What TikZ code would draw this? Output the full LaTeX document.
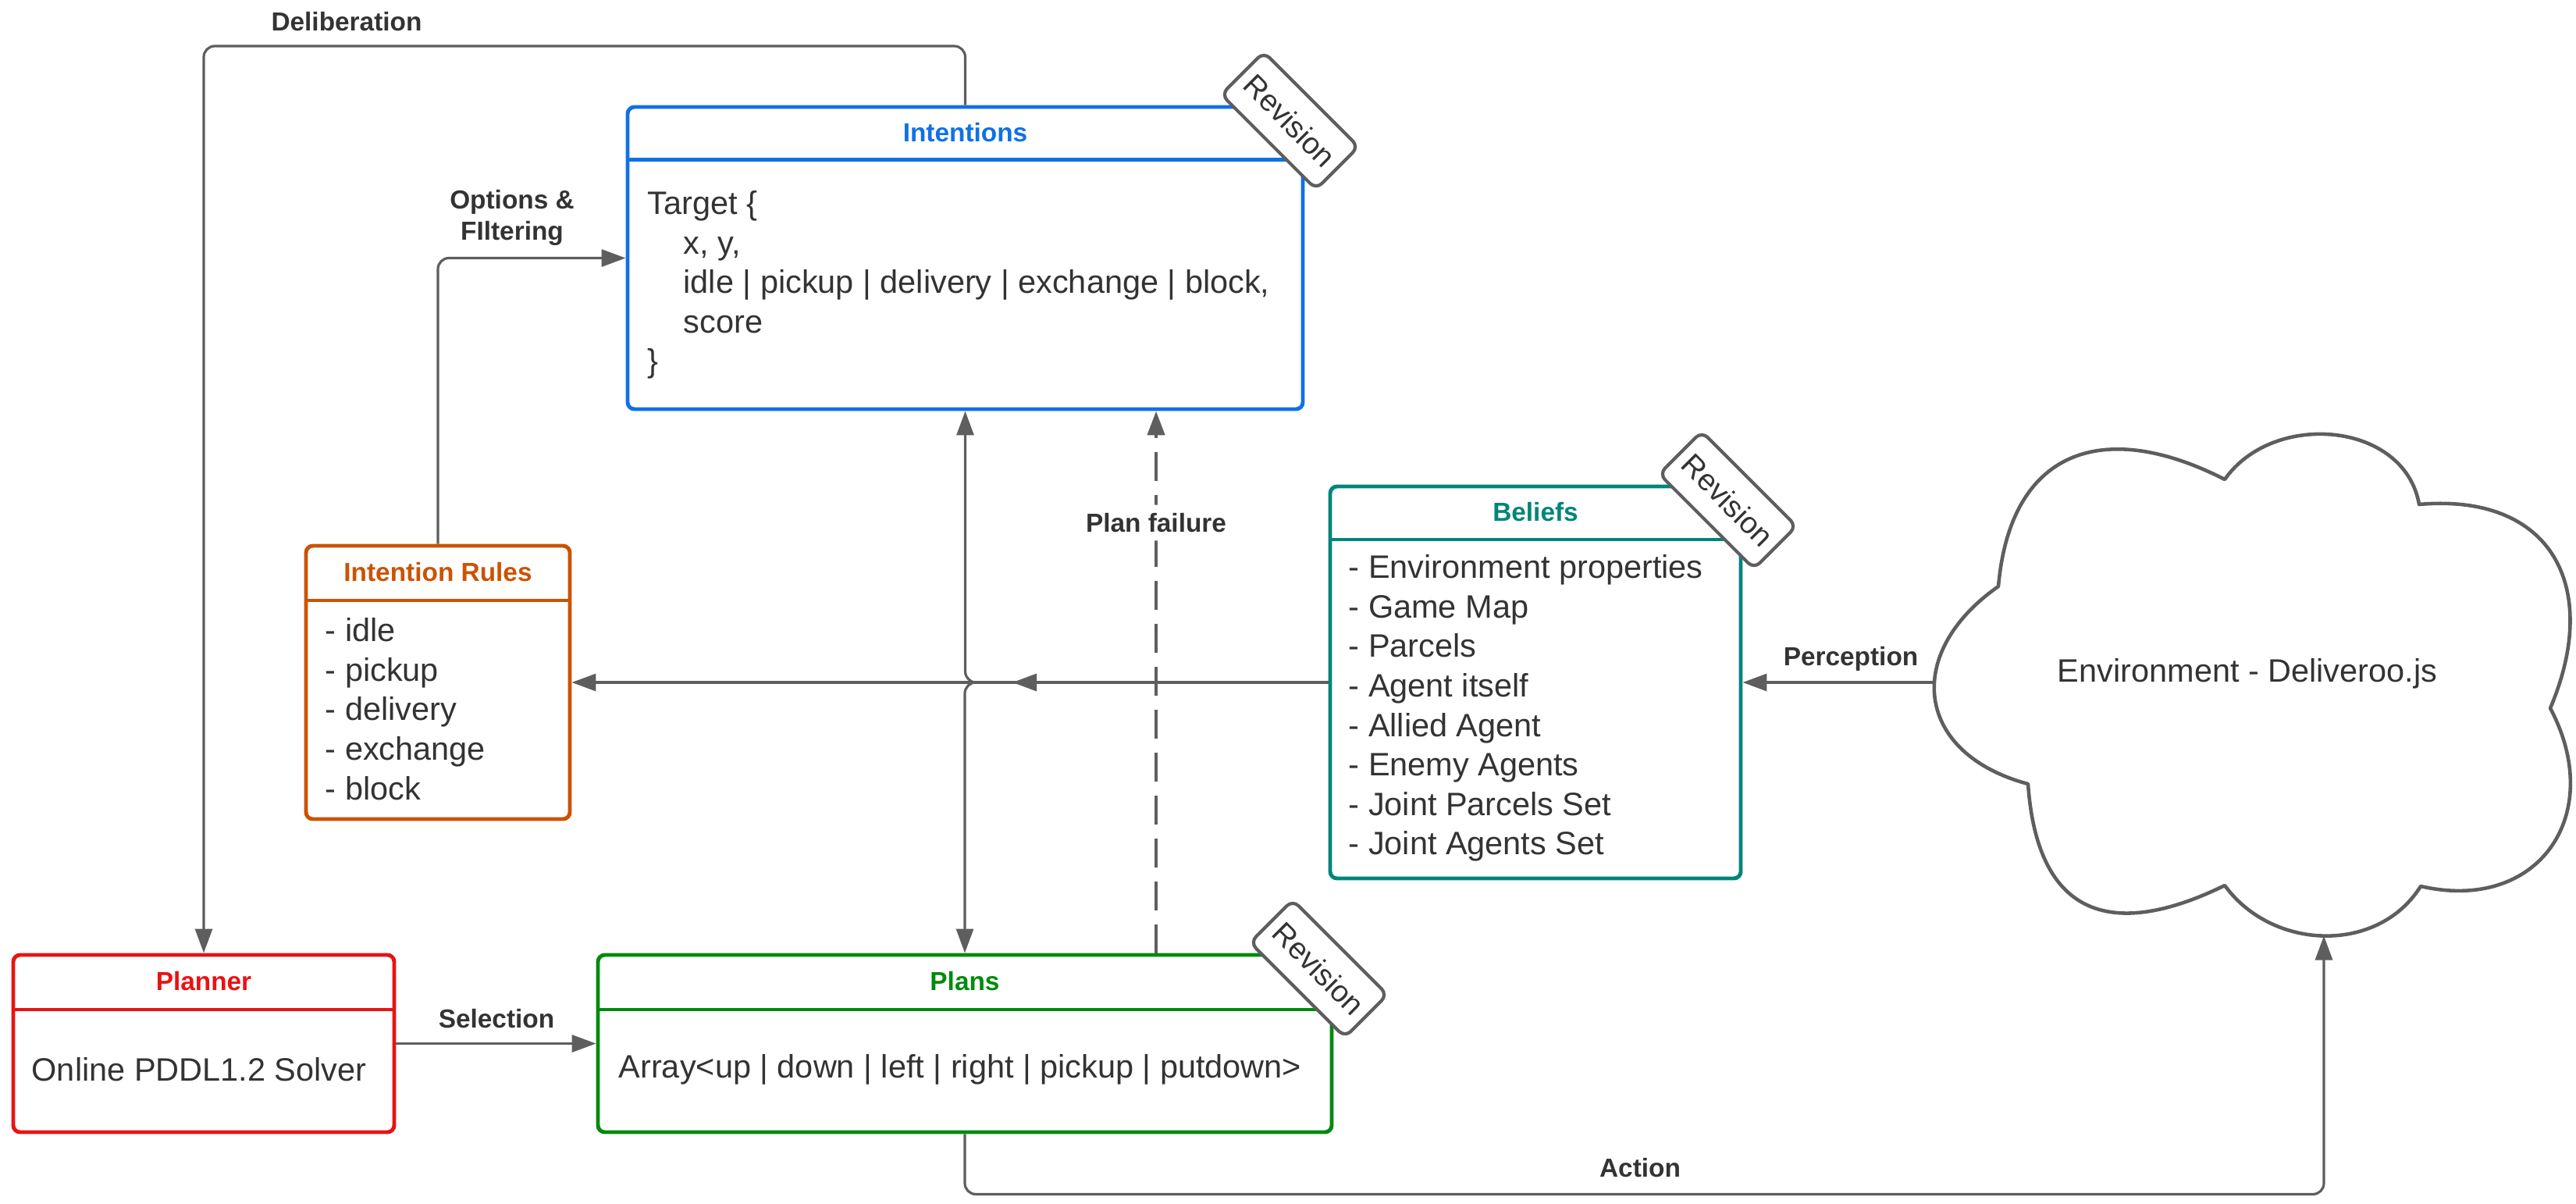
\documentclass[tikz,border=0pt]{standalone}
\usepackage{fontspec}
\setmainfont{Liberation Sans}
\usetikzlibrary{positioning, arrows.meta}
\usepackage{xcolor}
\definecolor{intblue}{HTML}{1071E5}
\definecolor{ruleorange}{HTML}{CC5200}
\definecolor{beliefteal}{HTML}{00857A}
\definecolor{plannerred}{HTML}{E81313}
\definecolor{plangreen}{HTML}{008A0E}
\definecolor{linegrey}{HTML}{5E5E5E}
\definecolor{textgrey}{HTML}{333333}

\begin{document}
\begin{tikzpicture}[
        >={Triangle[length=3.1mm,width=2.2mm]},
        every node/.style={text=textgrey},
        box/.style={
            draw,
            line width=1.4pt,
            rounded corners=2.5pt,
            fill=white,
            inner sep=0pt
        },
        head/.style={font=\bfseries\fontsize{9.5}{11.4}\selectfont, inner sep=0pt},
        body/.style={font=\fontsize{11.8}{14.4}\selectfont, align=left, anchor=west, inner sep=0pt},
        lbl/.style={font=\bfseries\fontsize{9.5}{11.4}\selectfont, align=center, inner sep=1pt},
        link/.style={->, draw=linegrey, line width=0.9pt, rounded corners=4pt},
        tagbox/.style={
            draw=linegrey,
            line width=1.2pt,
            fill=white,
            rounded corners=3pt,
            minimum width=1.71cm,
            minimum height=0.77cm,
            rotate=-45,
            font=\fontsize{11}{13}\selectfont
        }
    ]
        \useasboundingbox (0,0) rectangle (33,-15.41);

        % Boxes - top row
        \node[box, draw=intblue, minimum width=8.65cm, minimum height=3.87cm] (int) at (12.365,-3.305) {};
        \node[head, text=intblue, minimum height=0.69cm, below=0pt of int.north] (intT) {Intentions};
        \draw[intblue, line width=1.4pt] (int.west |- intT.south) -- (int.east |- intT.south);
        \node[body] (intB) at (8.29,-3.65) {Target \{\\\hspace*{0.46cm}x, y,\\\hspace*{0.46cm}idle | pickup | delivery | exchange | block,\\\hspace*{0.46cm}score\\\}};

        % Boxes - middle row
        \node[box, draw=ruleorange, minimum width=3.38cm, minimum height=3.5cm] (ir) at (5.61,-8.74) {};
        \node[head, text=ruleorange, minimum height=0.71cm, below=0pt of ir.north] (irT) {Intention Rules};
        \draw[ruleorange, line width=1.4pt] (ir.west |- irT.south) -- (ir.east |- irT.south);
        \node[body] (irB) at (4.16,-9.08) {- idle\\- pickup\\- delivery\\- exchange\\- block};

        \node[box, draw=beliefteal, minimum width=5.26cm, minimum height=5.02cm] (bel) at (19.67,-8.74) {};
        \node[head, text=beliefteal, minimum height=0.69cm, below=0pt of bel.north] (belT) {Beliefs};
        \draw[beliefteal, line width=1.4pt] (bel.west |- belT.south) -- (bel.east |- belT.south);
        \node[body] (belB) at (17.27,-9.07) {- Environment properties\\- Game Map\\- Parcels\\- Agent itself\\- Allied Agent\\- Enemy Agents\\- Joint Parcels Set\\- Joint Agents Set};

        % Boxes - bottom row
        \node[box, draw=plannerred, minimum width=4.88cm, minimum height=2.27cm] (pln) at (2.61,-13.365) {};
        \node[head, text=plannerred, minimum height=0.71cm, below=0pt of pln.north] (plnT) {Planner};
        \draw[plannerred, line width=1.4pt] (pln.west |- plnT.south) -- (pln.east |- plnT.south);
        \node[body] (plnB) at (0.40,-13.70) {Online PDDL1.2 Solver};

        \node[box, draw=plangreen, minimum width=9.4cm, minimum height=2.27cm] (plans) at (12.36,-13.365) {};
        \node[head, text=plangreen, minimum height=0.71cm, below=0pt of plans.north] (plansT) {Plans};
        \draw[plangreen, line width=1.4pt] (plans.west |- plansT.south) -- (plans.east |- plansT.south);
        \node[body] (plansB) at (7.92,-13.70) {Array<up | down | left | right | pickup | putdown>};

        % Revision tags
        \node[tagbox] (intR) at ([xshift=-0.19cm,yshift=-0.2cm]int.north east) {Revision};
        \node[tagbox] (belR) at ([xshift=-0.19cm,yshift=-0.2cm]bel.north east) {Revision};
        \node[tagbox] (plansR) at ([xshift=-0.19cm,yshift=-0.2cm]plans.north east) {Revision};

        % Environment cloud
        \draw[linegrey, line width=1.3pt, line join=round]
            (25.60,-7.51) to[out=85,in=153,looseness=1.4] (28.50,-6.14)
            to[out=55,in=100,looseness=1.1] (30.99,-6.46)
            to[out=5,in=67,looseness=1.4] (32.67,-9.07)
            to[out=-62,in=-13,looseness=1.4] (31.01,-11.35)
            to[out=-122,in=-54,looseness=1.05] (28.50,-11.34)
            to[out=-154,in=-86,looseness=1.5] (25.98,-10.04)
            to[out=165,in=215,looseness=1.5] (25.60,-7.51) -- cycle;
        \node[body, anchor=center] (env) at (28.79,-8.63) {Environment - Deliveroo.js};
        \coordinate (envW) at (24.78,-8.74);
        \coordinate (envS) at (29.77,-11.985);

        % Connectors
        \coordinate (top) at (0,-0.59);
        \coordinate (hub) at (12.97,-8.74);
        \coordinate (failx) at (14.81,-6.68);
        \draw[link] (int.north) -- (int.north |- top) -| (pln.north);
        \draw[link] (ir.north) |- (int.west);
        \draw[link] (pln.east) -- (plans.west);
        \draw[link] (envW) -- (bel.east);
        \draw[link] (plans.south) -- ++(0,-0.77) -| (envS);
        \draw[link] (bel.west) -- (ir.east);
        \draw[link] (bel.west) -- (hub);
        \draw[link] (hub) -| (int.south);
        \draw[link] (hub) -| (plans.north);
        \draw[link, line width=1.3pt, dash pattern=on 0.37cm off 0.18cm] (plans.north -| failx) -- node[lbl, pos=0.794, fill=white, inner sep=3pt] (fail) {Plan failure} (int.south -| failx);

        % Connector labels
        \node[lbl] (delib) at (4.44,-0.28) {Deliberation};
        \node[lbl] (optf) at (6.56,-2.79) {Options \&\\FIltering};
        \node[lbl] (sel) at (6.36,-13.05) {Selection};
        \node[lbl] (perc) at (23.71,-8.44) {Perception};
        \node[lbl] (act) at (21.01,-14.96) {Action};
    \end{tikzpicture}
\end{document}
